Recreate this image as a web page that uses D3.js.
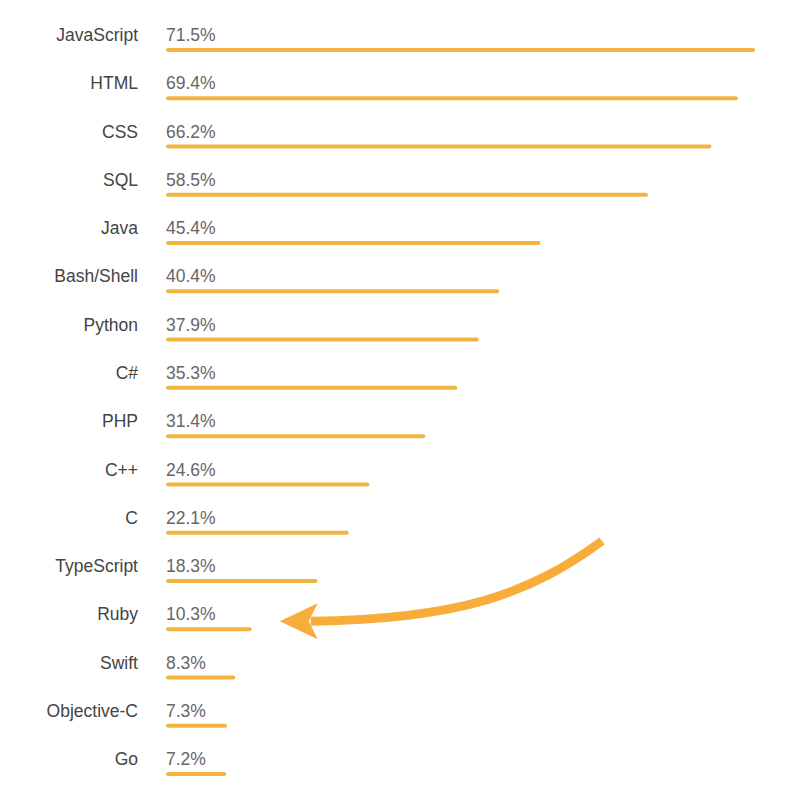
<!DOCTYPE html>
<html>
<head>
<meta charset="utf-8">
<script src="https://cdn.jsdelivr.net/npm/d3@7"></script>
<style>
  body { margin: 0; background: #fff; }
  text { font-family: "Liberation Sans", Arial, sans-serif; }
</style>
</head>
<body>
<div id="chart"></div>
<script>
  const languages = ["JavaScript", "HTML", "CSS", "SQL", "Java", "Bash/Shell", "Python", "C#",
                     "PHP", "C++", "C", "TypeScript", "Ruby", "Swift", "Objective-C", "Go"];
  const shares    = [71.5, 69.4, 66.2, 58.5, 45.4, 40.4, 37.9, 35.3,
                     31.4, 24.6, 22.1, 18.3, 10.3, 8.3, 7.3, 7.2];
  const highlight = "Ruby";

  const width = 800, height = 794;
  const BAR_COLOR = "#f2b441";
  const ARROW_COLOR = "#f8ad3b";

  const svg = d3.select('#chart').append('svg')
    .attr('width', width)
    .attr('height', height);

  // x: percent -> pixel, bars start at the value column
  const x = d3.scaleLinear().domain([0, 71.5]).range([166, 754]);
  // y: one row per language
  const y = d3.scalePoint().domain(languages).range([35, 759]);

  const rows = svg.selectAll('g.row')
    .data(languages.map((d, i) => ({ name: d, value: shares[i] })))
    .join('g')
    .attr('class', 'row')
    .attr('transform', d => "translate(0," + y(d.name) + ")");

  rows.append('text')
    .attr('x', 138)
    .attr('dy', '0.35em')
    .attr('text-anchor', 'end')
    .attr('font-size', 17.5)
    .attr('fill', '#444')
    .text(d => d.name);

  rows.append('text')
    .attr('x', x(0))
    .attr('dy', '0.35em')
    .attr('font-size', 17.5)
    .attr('fill', '#666')
    .text(d => d.value.toFixed(1) + "%");

  rows.append('line')
    .attr('x1', x(0) + 2)
    .attr('x2', d => x(d.value) - 1)
    .attr('y1', 15)
    .attr('y2', 15)
    .attr('stroke', BAR_COLOR)
    .attr('stroke-width', 4)
    .attr('stroke-linecap', 'round');

  // curved arrow pointing at the highlighted bar
  const rubyEnd = x(shares[languages.indexOf(highlight)]);
  const ay = y(highlight) + 7;
  const tipX = rubyEnd + 30;
  const shaft = d3.path();
  shaft.moveTo(602, 541);
  shaft.bezierCurveTo(530, 594, 460, ay - 2, tipX + 30, ay);
  svg.append('path')
    .attr('d', shaft.toString())
    .attr('fill', 'none')
    .attr('stroke', ARROW_COLOR)
    .attr('stroke-width', 9);

  svg.append('path')
    .attr('d', "M" + (tipX - 1) + "," + ay +
               "L" + (tipX + 37) + "," + (ay - 18) +
               "L" + (tipX + 28) + "," + ay +
               "L" + (tipX + 37) + "," + (ay + 18) + "Z")
    .attr('fill', ARROW_COLOR);
</script>
</body>
</html>
